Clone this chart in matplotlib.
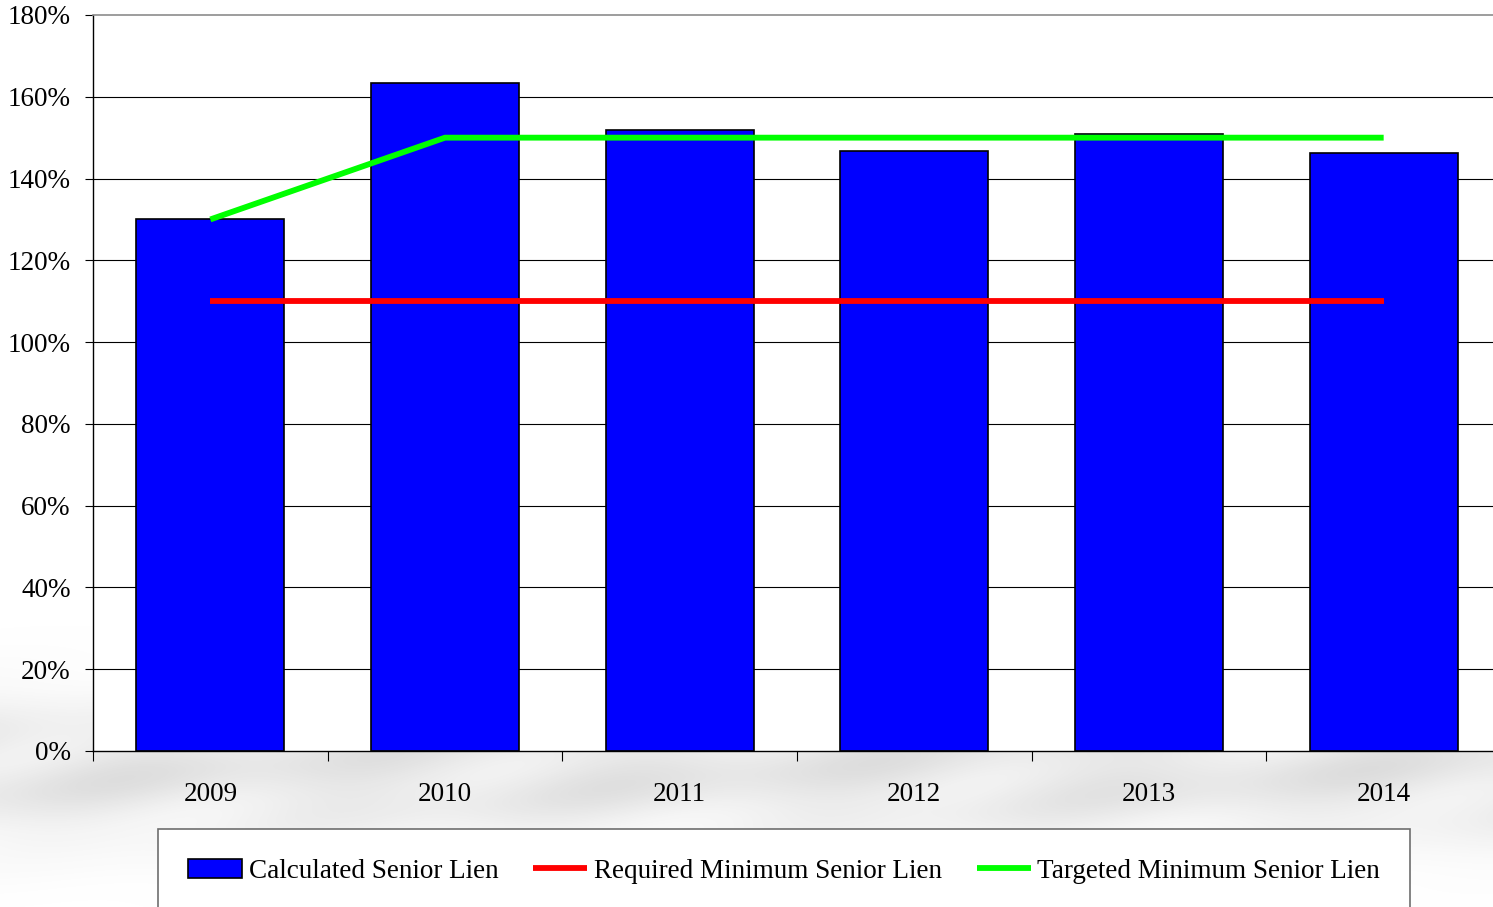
import matplotlib
matplotlib.use("Agg")
import matplotlib.pyplot as plt
import numpy as np
from matplotlib.ticker import FuncFormatter, FixedLocator

years = ["2009", "2010", "2011", "2012", "2013", "2014"]
calculated = [1.301, 1.634, 1.519, 1.467, 1.509, 1.462]
required_min = [1.10, 1.10, 1.10, 1.10, 1.10, 1.10]
targeted_min = [1.30, 1.50, 1.50, 1.50, 1.50, 1.50]
y_ticks = [0.0, 0.2, 0.4, 0.6, 0.8, 1.0, 1.2, 1.4, 1.6, 1.8]

W, H = 1493, 907
plt.rcParams["font.family"] = ["Liberation Serif", "DejaVu Serif"]

fig = plt.figure(figsize=(W / 100, H / 100), dpi=100)
fig.patch.set_facecolor("white")

# soft grey backdrop along the bottom of the slide
bg = fig.add_axes([0, 0, 1, 1], zorder=-10)
bg.set_axis_off()
yy, xx = np.mgrid[0:H, 0:W]
band = np.exp(-((yy - 770) / 70.0) ** 2)
ripple = 0.7 + 0.3 * np.sin(xx / 55.0 + yy / 18.0) * np.cos(xx / 140.0 - yy / 40.0)
shade = np.clip(band * ripple * 0.3, 0, 1)
rgba = np.ones((H, W, 4))
rgba[..., :3] = 0.55
rgba[..., 3] = shade
bg.imshow(rgba, extent=[0, 1, 0, 1], aspect="auto", interpolation="bilinear")
bg.set_xlim(0, 1)
bg.set_ylim(0, 1)

ax = fig.add_axes([93 / W, 1 - 751 / H, 1408 / W, 736 / H])
ax.set_facecolor("white")
x = np.arange(len(years))

for level in y_ticks[1:-1]:
    ax.axhline(level, color="black", linewidth=0.8, zorder=0)

bars = ax.bar(x, calculated, width=0.63, color="#0000FF", edgecolor="black",
              linewidth=1.2, zorder=2, label="Calculated Senior Lien")
red_line, = ax.plot(x, required_min, color="#FF0000", linewidth=4.2, zorder=3,
                    solid_capstyle="butt", label="Required Minimum Senior Lien")
green_line, = ax.plot(x, targeted_min, color="#00FF00", linewidth=4.2, zorder=3,
                      solid_capstyle="butt", label="Targeted Minimum Senior Lien")

ax.set_xlim(-0.5, len(years) - 0.5)
ax.set_ylim(0, 1.8)

ax.yaxis.set_major_locator(FixedLocator(y_ticks))
ax.yaxis.set_major_formatter(FuncFormatter(lambda v, _: f"{v * 100:.0f}%"))
ax.tick_params(axis="y", direction="out", length=6, width=0.8, pad=10,
               labelsize=19.5, colors="black")

ax.set_xticks(x)
ax.set_xticklabels(years)
ax.set_xticks(np.arange(-0.5, len(years), 1.0), minor=True)
ax.tick_params(axis="x", which="major", length=0, pad=22, labelsize=19.5)
ax.tick_params(axis="x", which="minor", direction="out", length=7, width=0.8)

ax.spines["right"].set_visible(False)
ax.spines["top"].set_color("#8c8c8c")
ax.spines["top"].set_linewidth(1.2)
ax.spines["left"].set_linewidth(1.0)
ax.spines["bottom"].set_linewidth(1.0)

leg = fig.legend(
    [bars, red_line, green_line],
    [bars.get_label(), red_line.get_label(), green_line.get_label()],
    loc="upper left",
    bbox_to_anchor=(158 / W, 1 - 829 / H, 1252 / W, 0.0),
    mode="expand",
    ncol=3,
    fontsize=19.5,
    frameon=True,
    fancybox=False,
    edgecolor="#6e6e6e",
    facecolor="white",
    framealpha=1.0,
    borderpad=1.1,
    borderaxespad=0.0,
    handlelength=2.0,
    handleheight=0.7,
    handletextpad=0.25,
    columnspacing=1.6,
)
leg.get_frame().set_linewidth(1.2)

fig.savefig("out.png", dpi=100)
